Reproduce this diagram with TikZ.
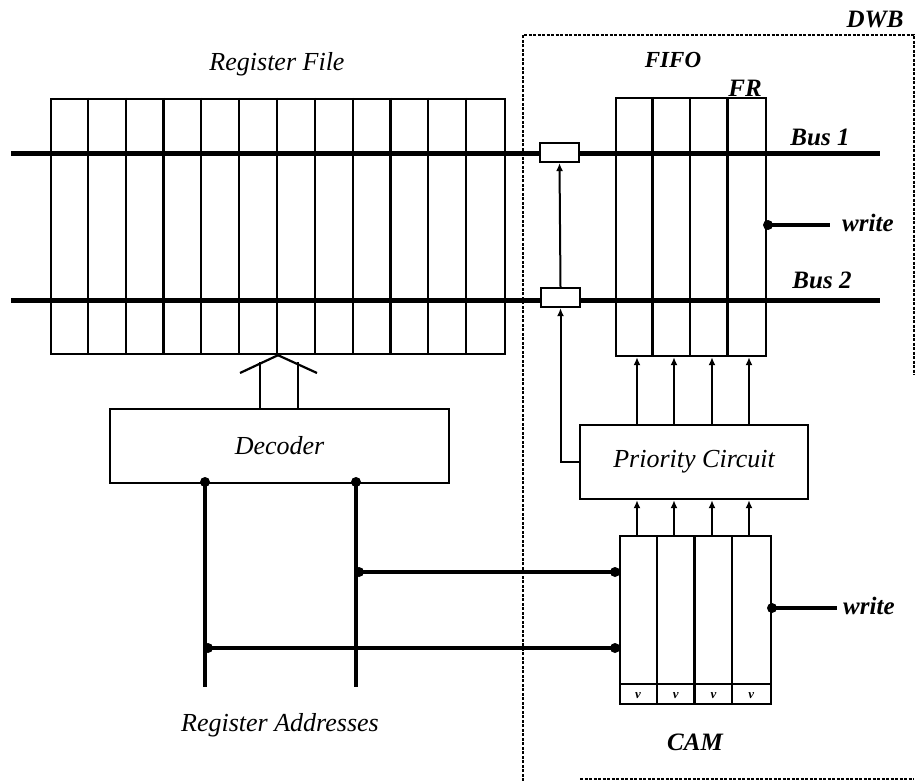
\documentclass[tikz,border=0pt]{standalone}
\usepackage{fontspec}
\setmainfont{Liberation Serif}
\usetikzlibrary{arrows.meta,calc}
\begin{document}
\begin{tikzpicture}[x=1pt,y=-1pt,
  cell/.style={draw, line width=2.2pt, inner sep=0pt, anchor=north west},
  col/.style={line width=2.2pt},
  latch/.style={draw, fill=white, line width=2.2pt, inner sep=0pt, minimum width=39pt, minimum height=19pt},
  lbl/.style={font=\fontsize{26}{26}\selectfont\itshape, inner sep=0pt},
  blbl/.style={font=\fontsize{25}{25}\selectfont\bfseries\itshape, inner sep=0pt},
  bus/.style={line width=5pt},
  addr/.style={line width=3.3pt},
  arr/.style={line width=2pt, -{Latex[length=8pt,width=7pt]}},
  dot/.style={circle, fill, inner sep=0pt, minimum size=10pt},
  dwb/.style={dash pattern=on 3pt off 1.5pt, line width=1.6pt},
  vmark/.style={font=\fontsize{13}{13}\selectfont\bfseries\itshape, inner sep=0pt}]
\useasboundingbox (0,0) rectangle (916,781);

% DWB border
\draw[dwb] (523,781) -- (523,35) -- (914,35) -- (914,375);
\draw[dwb] (580,779) -- (914,779);

% register file
\node[cell, minimum width=454pt, minimum height=255pt] (rf) at (50,98) {};
\foreach \i in {1,...,11}
  \draw[col] ($(rf.north west)+(\i*37.83,0)$) -- ($(rf.south west)+(\i*37.83,0)$);

% FIFO
\node[cell, minimum width=150pt, minimum height=258pt] (fifo) at (615,97) {};
\foreach \i in {1,2,3}
  \draw[col] ($(fifo.north west)+(\i*37.5,0)$) -- ($(fifo.south west)+(\i*37.5,0)$);

% buses
\coordinate (b1w) at (11,154); \coordinate (b1e) at (880,154);
\coordinate (b2w) at (11,300); \coordinate (b2e) at (880,300);
\draw[bus] (b1w) -- (b1e);
\draw[bus] (b2w) -- (b2e);

% latches
\node[latch] (l1) at (559.5,152.5) {};
\node[latch] (l2) at (560.5,297.5) {};

% priority circuit
\node[cell, minimum width=228pt, minimum height=74pt, lbl] (pc) at (579,424) {Priority Circuit};
\draw[arr] (pc.west) -| (l2.south);
\draw[arr] (l2.north) -- (l1.south);

% CAM
\node[cell, minimum width=151pt, minimum height=168pt] (cam) at (619,535) {};
\foreach \i in {1,2,3}
  \draw[col] ($(cam.north west)+(\i*37.75,0)$) -- ($(cam.south west)+(\i*37.75,0)$);
\draw[col] (cam.west |- 0,684) -- (cam.east |- 0,684);
\foreach \i in {0,1,2,3}
  \node[vmark] at ($(cam.south west)+(\i*37.75+18.9,-9.5)$) {v};

% arrows priority
\foreach \x in {637,674,712,749} {
  \draw[arr] (\x,0 |- pc.north) -- (\x,0 |- fifo.south);
  \draw[arr] (\x,0 |- cam.north) -- (\x,0 |- pc.south);
}

% decoder
\node[cell, minimum width=339pt, minimum height=74pt, lbl] (dec) at (109,408) {Decoder};
\draw[col] (260,0 |- dec.north) -- (260,362);
\draw[col] (298,0 |- dec.north) -- (298,362);
\draw[col] (240,373) -- (278,0 |- rf.south) -- (317,373);

% address lines
\node[dot] (d1) at (205,482) {};
\node[dot] (d2) at (356,482) {};
\coordinate (a1) at (205,687);
\coordinate (a2) at (356,687);
\draw[addr] (d1.center) -- (a1);
\draw[addr] (d2.center) -- (a2);
\node[dot] (j2) at (359,572) {};
\node[dot] (c2) at (615,572) {};
\draw[addr] (j2.center) -- (c2.center);
\node[dot] (j1) at (208,648) {};
\node[dot] (c1) at (615,648) {};
\draw[addr] (j1.center) -- (c1.center);

% write inputs
\node[dot] (wf) at (768,225) {};
\coordinate (wfe) at (830,225);
\draw[addr] (wf.center) -- (wfe);
\node[blbl, anchor=west] (wfl) at (842,223) {write};
\node[dot] (wc) at (772,608) {};
\coordinate (wce) at (837,608);
\draw[addr] (wc.center) -- (wce);
\node[blbl, anchor=west] (wcl) at (843,606) {write};

% labels
\node[lbl] (rflab) at (277,64) {Register File};
\node[blbl, font=\fontsize{23}{23}\selectfont\bfseries\itshape] (fifolab) at (673,60) {FIFO};
\node[blbl] (frlab) at (745,88) {FR};
\node[blbl] (dwblab) at (875,20) {DWB};
\node[blbl] (bus1) at (820,137) {Bus 1};
\node[blbl] (bus2) at (822,280) {Bus 2};
\node[blbl] (camlab) at (695,742) {CAM};
\node[lbl] (ralab) at (280,725) {Register Addresses};
\end{tikzpicture}
\end{document}
